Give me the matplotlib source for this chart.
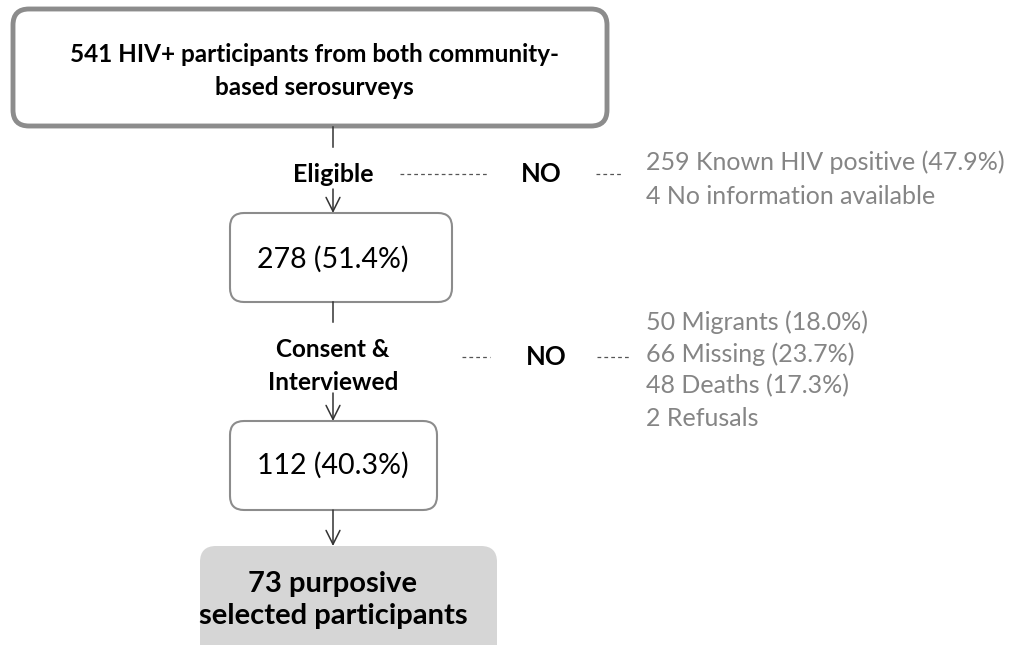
import matplotlib.pyplot as plt
from matplotlib.patches import FancyBboxPatch

plt.rcParams['font.family'] = ['Lato', 'DejaVu Sans']

# flowchart content
top_text = '541 HIV+ participants from both community-\nbased serosurveys'
step_labels = ['Eligible', 'Consent &\nInterviewed']
step_counts = ['278 (51.4%)', '112 (40.3%)']
excluded_1 = ['259 Known HIV positive (47.9%)', '4 No information available']
excluded_2 = ['50 Migrants (18.0%)', '66 Missing (23.7%)', '48 Deaths (17.3%)', '2 Refusals']
final_text = '73 purposive\nselected participants'

fig = plt.figure(figsize=(10.24, 6.45), dpi=100)
ax = fig.add_axes([0, 0, 1, 1])
ax.set_xlim(0, 1024)
ax.set_ylim(645, 0)
ax.axis('off')

cx = 333
grey_txt = '#858585'
edge = '#8c8c8c'


def box(x0, y0, x1, y1, lw, fc='white', ec=edge, r=14):
    p = FancyBboxPatch((x0 + r, y0 + r), (x1 - x0) - 2 * r, (y1 - y0) - 2 * r,
                       boxstyle=f'round,pad={r}', fc=fc, ec=ec, lw=lw, zorder=2)
    ax.add_patch(p)


def arrow(y0, y1):
    ax.annotate('', xy=(cx, y1), xytext=(cx, y0),
                arrowprops=dict(arrowstyle='->,head_length=1.0,head_width=0.5',
                                color='#333333', lw=1.1, shrinkA=0, shrinkB=0))


def vline(y0, y1):
    ax.plot([cx, cx], [y0, y1], color='#333333', lw=1.1)


def dash(x0, x1, y):
    ax.plot([x0, x1], [y, y], color='#555555', lw=0.9, ls=(0, (3, 2.5)))


# top box
box(13, 9, 607, 126, lw=3.5, r=16)
ax.text(314, 71, top_text, ha='center', va='center', fontsize=17.5, fontweight='bold',
        linespacing=1.5, zorder=3)

vline(127, 147)
ax.text(cx, 175, step_labels[0], ha='center', va='center', fontsize=18, fontweight='bold')
arrow(189, 213)
dash(400, 487, 174)
ax.text(541, 174, 'NO', ha='center', va='center', fontsize=18.5, fontweight='bold')
dash(596, 622, 174)
for i, t in enumerate(excluded_1):
    ax.text(646, 162 + i * 35, t, ha='left', va='center', fontsize=18, color=grey_txt)

# box 2
box(230, 213, 452, 302, lw=1.5)
ax.text(cx, 259, step_counts[0], ha='center', va='center', fontsize=20.5, zorder=3)

vline(302, 322)
ax.text(cx, 366, step_labels[1], ha='center', va='center', fontsize=17.5, fontweight='bold',
        linespacing=1.5)
dash(462, 490, 357)
ax.text(546, 357, 'NO', ha='center', va='center', fontsize=18.5, fontweight='bold')
dash(597, 630, 357)
for i, t in enumerate(excluded_2):
    ax.text(646, 322 + i * 32, t, ha='left', va='center', fontsize=18, color=grey_txt)

arrow(393, 421)

# box 3
box(230, 421, 437, 510, lw=1.5)
ax.text(cx, 465, step_counts[1], ha='center', va='center', fontsize=20.5, zorder=3)

arrow(510, 546)

# final box
box(200, 546, 497, 660, lw=0, fc='#d6d6d6', ec='none', r=16)
ax.text(cx, 600, final_text, ha='center', va='center', fontsize=21, fontweight='bold',
        linespacing=1.25, zorder=3)

fig.savefig('out.png', dpi=100)
